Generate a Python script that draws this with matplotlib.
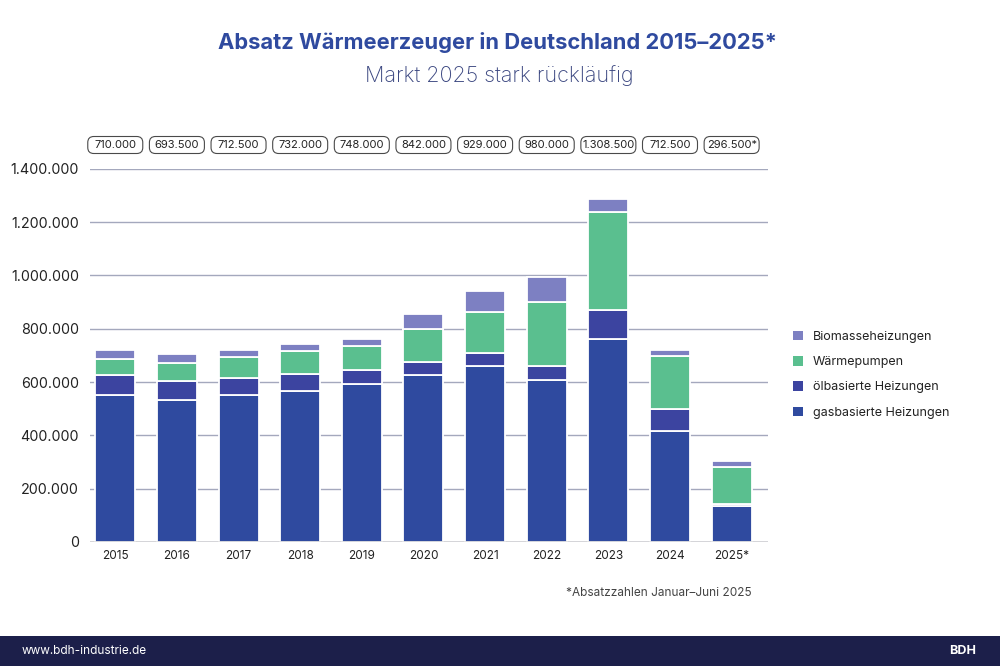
import matplotlib.pyplot as plt
from matplotlib.patches import FancyBboxPatch
import numpy as np

plt.rcParams['font.family'] = ['Inter', 'DejaVu Sans']

years = ['2015', '2016', '2017', '2018', '2019', '2020', '2021', '2022', '2023', '2024', '2025*']
totals = ['710.000', '693.500', '712.500', '732.000', '748.000', '842.000',
          '929.000', '980.000', '1.308.500', '712.500', '296.500*']

# Werte
gas = [550000, 534000, 550000, 567500, 593000, 628000, 661000, 607000, 761000, 415500, 134000]
oel = [78000, 69000, 65000, 61000, 53000, 47500, 46500, 53000, 108500, 85000, 9000]
wp = [60000, 70000, 77000, 88000, 90000, 122500, 156000, 241000, 369000, 196500, 140000]
bio = [33500, 31500, 29500, 25500, 23500, 56000, 79000, 93000, 46500, 24000, 19000]

series = ['gasbasierte Heizungen', 'ölbasierte Heizungen', 'Wärmepumpen', 'Biomasseheizungen']
colors = ['#2f4a9f', '#3c44a0', '#5abf8f', '#7d80c2']

fig = plt.figure(figsize=(10, 6.66), dpi=100)
ax_pos = [0.09, 0.1862, 0.678, 0.5605]
ax = fig.add_axes(ax_pos)

x = np.arange(len(years))
bottom = np.zeros(len(years))
bars = []
for vals, col, name in zip([gas, oel, wp, bio], colors, series):
    b = ax.bar(x, vals, 0.65, bottom=bottom, color=col, edgecolor='white',
               linewidth=1.3, label=name, zorder=3)
    bars.append(b)
    bottom += np.array(vals)

xmin, xmax = -0.41, 10.59
ax.set_xlim(xmin, xmax)
ax.set_ylim(0, 1400000)
ax.set_yticks(np.arange(0, 1400001, 200000))
ax.set_yticklabels(['0' if v == 0 else f'{v:,}'.replace(',', '.') for v in range(0, 1400001, 200000)],
                   fontsize=10.3, color='#222222')
ax.set_xticks(x)
ax.set_xticklabels(years, fontsize=8.5, color='#222222')
ax.tick_params(axis='both', length=0)
ax.tick_params(axis='y', pad=8)
ax.tick_params(axis='x', pad=6)
ax.grid(axis='y', color='#a4a8bd', linewidth=1, zorder=0)
for s in ax.spines.values():
    s.set_visible(False)
ax.axhline(0, color='#777777', linewidth=1, zorder=4)

# Summen oben in Kästchen (feste Breite)
bw, bh = 0.055, 17 / 666
by = 1 - 145 / 666
for xi, t in zip(x, totals):
    cx = ax_pos[0] + (xi - xmin) / (xmax - xmin) * ax_pos[2]
    box = FancyBboxPatch((cx - bw / 2, by - bh / 2), bw, bh, transform=fig.transFigure,
                         boxstyle='round,pad=0,rounding_size=0.006', mutation_aspect=1000 / 666,
                         facecolor='white', edgecolor='#4a4a4a', linewidth=0.8)
    fig.patches.append(box)
    fig.text(cx, by, t, ha='center', va='center', fontsize=8, color='#222222')

handles = [bars[3], bars[2], bars[1], bars[0]]
labels = [series[3], series[2], series[1], series[0]]
leg = ax.legend(handles, labels, loc='center left', bbox_to_anchor=(1.02, 0.448), frameon=False,
                fontsize=9, handlelength=0.8, handleheight=0.8, handletextpad=0.8,
                labelspacing=1.05)
for h in leg.legend_handles:
    h.set_edgecolor('none')
for t in leg.get_texts():
    t.set_color('#222222')

fig.text(0.497, 0.936, 'Absatz Wärmeerzeuger in Deutschland 2015–2025*', ha='center', va='center',
         fontsize=15.8, fontweight='bold', color='#2f4a9f')
fig.text(0.499, 0.886, 'Markt 2025 stark rückläufig', ha='center', va='center',
         fontsize=15.5, fontweight='light', color='#3a4680')

fig.text(0.752, 0.109, '*Absatzzahlen Januar–Juni 2025', ha='right', va='center',
         fontsize=8.5, color='#444444', fontstretch='condensed')

# Fußleiste
fig.patches.append(plt.Rectangle((0, 0), 1, 0.045, transform=fig.transFigure,
                                 facecolor='#1c1f4a', edgecolor='none', zorder=0))
fig.text(0.022, 0.0225, 'www.bdh-industrie.de', ha='left', va='center', fontsize=8.5, color='white')
fig.text(0.976, 0.0225, 'BDH', ha='right', va='center', fontsize=9, fontweight='bold', color='white')

fig.savefig('out.png', dpi=100)
